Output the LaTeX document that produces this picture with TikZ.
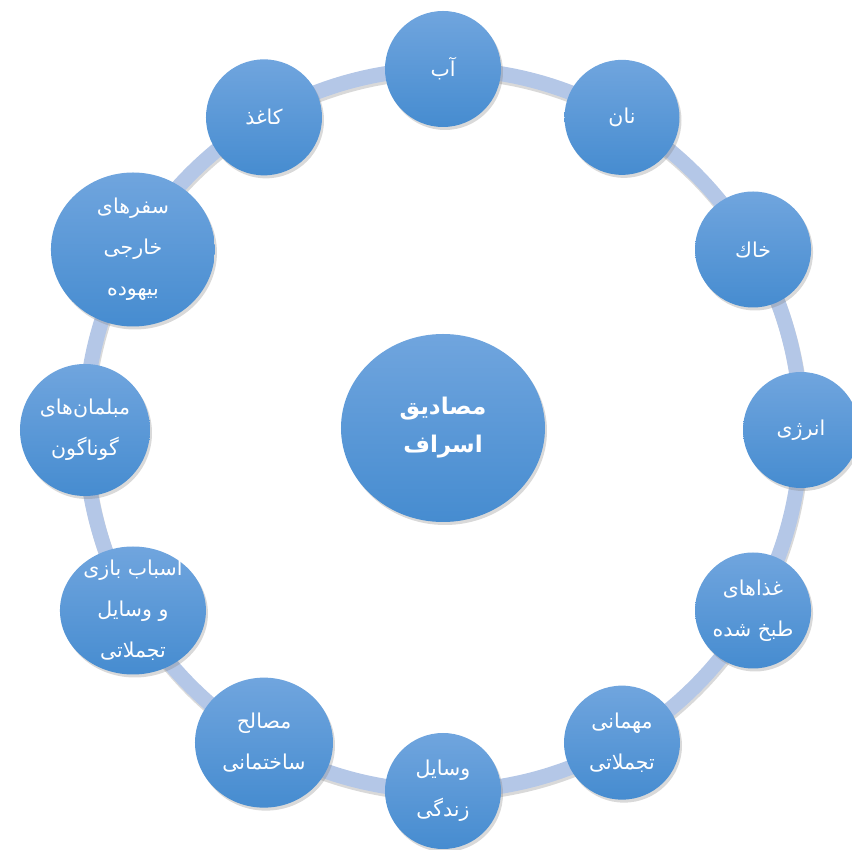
\documentclass[tikz,border=0pt]{standalone}
\usepackage{fontspec}
\usetikzlibrary{shapes.geometric,shadows}
\newfontfamily\arabicfont[Script=Arabic]{DejaVu Sans}
\TeXXeTstate=1
\definecolor{bubbletop}{RGB}{112,165,222}
\definecolor{bubblebot}{RGB}{70,140,208}
\definecolor{ringblue}{RGB}{180,199,231}

\begin{document}
\begin{tikzpicture}[
    x=1pt, y=1pt,
    bubble/.style={ellipse, inner sep=0pt, top color=bubbletop, bottom color=bubblebot,
      drop shadow={shadow xshift=2pt, shadow yshift=-3pt, opacity=0.3}},
    lbl/.style={text=white, align=center, font=\arabicfont\fontsize{20.5}{41}\selectfont},
    ring/.style={draw=ringblue, line width=15pt}
  ]
  \useasboundingbox (-443,-420) rectangle (409,430);
  % ring behind the bubbles
  \draw[black, opacity=0.15, line width=15pt] (1,-3) ellipse (358 and 361);
  \draw[ring] (0,0) ellipse (358 and 361);
  % centre
  \node[bubble, minimum width=204, minimum height=188] (masadiq) at (0,2) {};
  \node[lbl, font=\arabicfont\bfseries\fontsize{23}{38}\selectfont] (masadiq-t) at (masadiq)
    {\beginR مصادیق\endR\\\beginR اسراف\endR};
  % outer bubbles
  \foreach \ang/\nm/\w/\h/\txt in {
      90/ab/116/116/{\beginR آب\endR},
      60/nan/115/115/{\beginR نان\endR},
      30/khak/116/116/{\beginR خاك\endR},
      0/energy/116/116/{\beginR انرژی\endR},
      -30/ghaza/116/116/{\beginR غذاهای\endR\\\beginR طبخ شده\endR},
      -60/mehmani/116/114/{\beginR مهمانی\endR\\\beginR تجملاتی\endR},
      -90/vasayel/116/116/{\beginR وسایل\endR\\\beginR زندگی\endR},
      -120/masaleh/138/130/{\beginR مصالح\endR\\\beginR ساختمانی\endR},
      -150/asbab/146/128/{\beginR اسباب بازی\endR\\\beginR و وسایل\endR\\\beginR تجملاتی\endR},
      180/mobl/130/132/{\beginR مبلمان^^^^200cهای\endR\\\beginR گوناگون\endR},
      150/safar/164/154/{\beginR سفرهای\endR\\\beginR خارجی\endR\\\beginR بیهوده\endR},
      120/kaghaz/116/116/{\beginR کاغذ\endR}} {
    \node[bubble, minimum width=\w, minimum height=\h] (\nm) at (\ang:358 and 361) {};
    \node[lbl] (\nm-t) at (\nm) {\txt};
  }
\end{tikzpicture}
\end{document}
